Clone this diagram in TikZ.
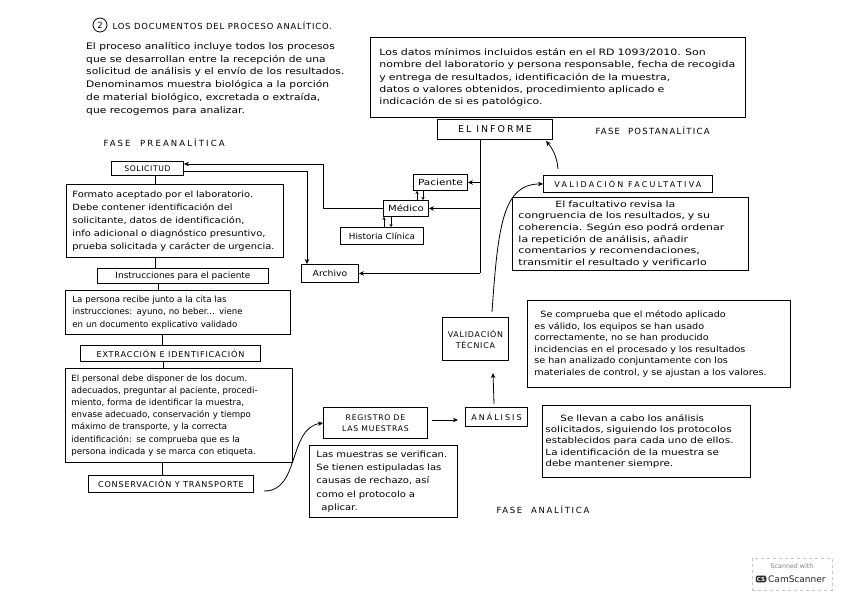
\documentclass[tikz,border=0pt]{standalone}
\usepackage{fontspec}
\setmainfont{DejaVu Sans}
\newfontfamily\spaced[LetterSpace=10]{DejaVu Sans}
\usetikzlibrary{arrows.meta}
\newcommand{\fsz}[2]{\fontsize{#1}{#2}\selectfont}
\newcommand{\st}[1]{\addfontfeatures{FakeStretch=#1}}
\newcommand{\ls}[1]{\spaced\addfontfeatures{LetterSpace=#1}}
\begin{document}
\begin{tikzpicture}[x=1pt,y=-1pt,
  bx/.style={draw, line width=0.9pt, inner sep=0pt, anchor=north west, align=center},
  tx/.style={align=left},
  con/.style={line width=0.8pt},
  arr/.style={line width=0.8pt, -{Stealth[length=5pt,width=4.5pt]}},
  sarr/.style={line width=0.7pt, -{Stealth[length=3pt,width=3pt]}},
]
\useasboundingbox (0,0) rectangle (848,599);
\fill[white] (0,0) rectangle (848,599);

% title and introduction
\node[circle, draw, line width=0.8pt, inner sep=0pt, minimum size=14pt, font=\fsz{8.5}{9}] (num) at (100,25) {2};
\node[anchor=west, font={\ls{10}\fsz{8.4}{9}}] (title) at (109,26) {LOS DOCUMENTOS DEL PROCESO ANALÍTICO.};
\node[anchor=north west, inner sep=0pt, align=left, font={\st{1.19}\fsz{9}{12.8}}] (intro) at (86,42)
 {El proceso analítico incluye todos los procesos\\
  que se desarrollan entre la recepción de una\\
  solicitud de análisis y el envío de los resultados.\\
  Denominamos muestra biológica a la porción\\
  de material biológico, excretada o extraída,\\
  que recogemos para analizar.};

% top right box
\node[bx, minimum width=375pt, minimum height=80pt, text width=357pt, tx, font={\st{1.25}\fsz{8.8}{12.2}}] (datos) at (370,37)
 {Los datos mínimos incluidos están en el RD 1093/2010. Son\\
  nombre del laboratorio y persona responsable, fecha de recogida\\
  y entrega de resultados, identificación de la muestra,\\
  datos o valores obtenidos, procedimiento aplicado e\\
  indicación de si es patológico.};

% phase labels
\node[anchor=west, font={\ls{25}\fsz{8.5}{9}}] (fpre) at (100,143) {FASE \ PREANALÍTICA};
\node[anchor=west, font={\ls{15}\fsz{8.5}{9}}] (fpost) at (592,131) {FASE \ POSTANALÍTICA};
\node[anchor=west, font={\ls{20}\fsz{8.5}{9}}] (fana) at (493,510) {FASE \ ANALÍTICA};

% left column
\node[bx, minimum width=72pt, minimum height=14pt, font={\ls{8}\fsz{7.7}{9}}] (solicitud) at (111,161) {SOLICITUD};
\node[bx, minimum width=217pt, minimum height=73pt, text width=205pt, tx, font={\st{1.15}\fsz{8.6}{13}}] (formato) at (66,184)
 {Formato aceptado por el laboratorio.\\
  Debe contener identificación del\\
  solicitante, datos de identificación,\\
  info adicional o diagnóstico presuntivo,\\
  prueba solicitada y carácter de urgencia.};
\node[bx, minimum width=171pt, minimum height=15pt, font={\st{1.04}\fsz{8.6}{10}}] (instr) at (97,268) {Instrucciones para el paciente};
\node[bx, minimum width=225pt, minimum height=44pt, text width=211pt, tx, font=\fsz{8.6}{12.5}] (persona) at (65,290)
 {La persona recibe junto a la cita las\\
  instrucciones: ayuno, no beber... viene\\
  en un documento explicativo validado};
\node[bx, minimum width=180pt, minimum height=16pt, font={\ls{10}\fsz{8.1}{9}}] (extraccion) at (80,345) {EXTRACCIÓN E IDENTIFICACIÓN};
\node[bx, minimum width=227pt, minimum height=94pt, text width=215pt, tx, font=\fsz{8.6}{12.1}] (personal) at (65,368)
 {El personal debe disponer de los docum.\\
  adecuados, preguntar al paciente, procedi-\\
  miento, forma de identificar la muestra,\\
  envase adecuado, conservación y tiempo\\
  máximo de transporte, y la correcta\\
  identificación: se comprueba que es la\\
  persona indicada y se marca con etiqueta.};
\node[bx, minimum width=165pt, minimum height=17pt, font={\ls{10}\fsz{8.1}{9}}] (conserv) at (88,475) {CONSERVACIÓN Y TRANSPORTE};

\draw[con] (155,0 |- solicitud.south) -- (155,0 |- formato.north);
\draw[con] (155,0 |- formato.south) -- (155,0 |- instr.north);
\draw[con] (158,0 |- instr.south) -- (158,0 |- persona.north);
\draw[con] (162,0 |- persona.south) -- (162,0 |- extraccion.north);
\draw[con] (163,0 |- extraccion.south) -- (163,0 |- personal.north);
\draw[con] (162,0 |- personal.south) -- (162,0 |- conserv.north);

% analytic phase
\node[bx, minimum width=104pt, minimum height=31pt, font={\ls{10}\fsz{7.7}{11}}] (registro) at (323,407) {REGISTRO DE\\LAS MUESTRAS};
\node[bx, minimum width=148pt, minimum height=72pt, text width=134pt, tx, font={\st{1.17}\fsz{8.6}{13.4}}] (muestras) at (309,445)
 {Las muestras se verifican.\\
  Se tienen estipuladas las\\
  causas de rechazo, así\\
  como el protocolo a\\
  \hspace*{5pt}aplicar.};
\node[bx, minimum width=62pt, minimum height=19pt, font={\ls{25}\fsz{8}{9}}] (analisis) at (465,407) {ANÁLISIS};
\node[bx, minimum width=208pt, minimum height=72pt, text width=202pt, tx, font={\st{1.21}\fsz{8.6}{11.3}}] (analisistx) at (542,405)
 {\hspace*{15pt}Se llevan a cabo los análisis\\
  solicitados, siguiendo los protocolos\\
  establecidos para cada uno de ellos.\\
  La identificación de la muestra se\\
  debe mantener siempre.};
\node[bx, minimum width=66pt, minimum height=43pt, font={\ls{10}\fsz{7.9}{11}}] (vtecnica) at (442,317) {VALIDACIÓN\\TÉCNICA};
\node[bx, minimum width=263pt, minimum height=87pt, text width=249pt, tx, font={\st{1.12}\fsz{8.6}{11.6}}] (tecnicatx) at (527,300)
 {\hspace*{6pt}Se comprueba que el método aplicado\\
  es válido, los equipos se han usado\\
  correctamente, no se han producido\\
  incidencias en el procesado y los resultados\\
  se han analizado conjuntamente con los\\
  materiales de control, y se ajustan a los valores.};

% post-analytic phase
\node[bx, minimum width=169pt, minimum height=17pt, font={\ls{28}\fsz{8}{9}}] (vfacult) at (543,175) {VALIDACIÓN FACULTATIVA};
\node[bx, minimum width=236pt, minimum height=73pt, text width=224pt, tx, font={\st{1.28}\fsz{8.6}{11.6}}] (facultx) at (512,197)
 {\hspace*{37pt}El facultativo revisa la\\
  congruencia de los resultados, y su\\
  coherencia. Según eso podrá ordenar\\
  la repetición de análisis, añadir\\
  comentarios y recomendaciones,\\
  transmitir el resultado y verificarlo};
\node[bx, minimum width=115pt, minimum height=20pt, font={\ls{22}\fsz{9.4}{10}}] (informe) at (437,119) {EL INFORME};
\node[bx, minimum width=54pt, minimum height=16pt, font={\st{1.25}\fsz{8.4}{10}}] (paciente) at (413,174) {Paciente};
\node[bx, minimum width=45pt, minimum height=16pt, font={\st{1.2}\fsz{8.4}{10}}] (medico) at (383,200) {Médico};
\node[bx, minimum width=83pt, minimum height=17pt, font={\st{1.05}\fsz{8.4}{10}}] (historia) at (340,227) {Historia Clínica};
\node[bx, minimum width=57pt, minimum height=18pt, font={\st{1.1}\fsz{8.4}{10}}] (archivo) at (301,264) {Archivo};

% report distribution
\draw[con] (480,0 |- informe.south) -- (480,0 |- archivo.east);
\draw[arr] (480,0 |- paciente.east) -- (paciente.east);
\draw[arr] (480,0 |- medico.east) -- (medico.east);
\draw[arr] (480,0 |- archivo.east) -- (archivo.east);
\draw[sarr] (417,0 |- medico.north) -- (417,0 |- paciente.south);
\draw[sarr] (423,0 |- paciente.south) -- (423,0 |- medico.north);
\draw[sarr] (384,0 |- historia.north) -- (384,0 |- medico.south);
\draw[sarr] (391,0 |- medico.south) -- (391,0 |- historia.north);
\draw[arr] (medico.west) -- (323,0 |- medico.west) -- (323,164) -- (solicitud.east |- 0,164);
\draw[arr] (solicitud.east |- 0,171) -- (307,171) -- (307,0 |- archivo.north);

% flow arrows
\draw[arr] (conserv.east) ++(10,7) .. controls (300,492) and (288,428) .. (registro.west |- 0,423);
\draw[arr] (432,420) -- (458,420);
\draw[arr] (494,0 |- analisis.north) ++(0,-3) -- (493,373);
\draw[arr] (492,312) .. controls (498,225) and (503,184) .. (vfacult.west);
\draw[arr] (558,169) .. controls (557,156) and (552,148) .. (546,141);

% scanner stamp
\node[draw=gray!45, dashed, line width=0.4pt, minimum width=80pt, minimum height=32pt, anchor=north west, inner sep=0pt] (cs) at (752,558) {};
\node[font=\fsz{6.3}{7}, text=gray] (csa) at (792,566) {Scanned with};
\node[fill=black!85, rounded corners=1.5pt, text=white, font=\bfseries\fsz{5.5}{6}, inner sep=1.2pt] (csl) at (761,579) {CS};
\node[anchor=west, inner sep=0pt, font=\fsz{9}{9}, text=black!85] (csb) at (768,579) {CamScanner};
\end{tikzpicture}
\end{document}
